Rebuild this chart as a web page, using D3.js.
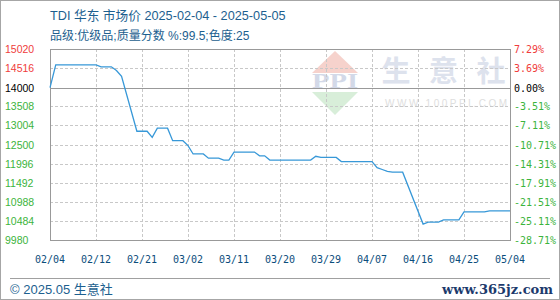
<!doctype html>
<html>
<head>
    <meta charset="UTF-8">
    <title>TDI 华东 市场价</title>
    <script src="https://cdn.jsdelivr.net/npm/d3@7"></script>
    <style>
        body { margin:0; background:#fff; }
        .title { font-family: "Liberation Sans", "Noto Sans CJK SC", sans-serif; fill: #1d5f8f; }
        .ylab { font-family: "Liberation Sans", Arial, sans-serif; font-size: 10.5px; }
        .pct { font-family: "DejaVu Sans Mono", monospace; font-size: 10px; }
        .xlab { font-family: "DejaVu Sans Mono", monospace; font-size: 10px; fill: #0b4d7c; text-anchor: middle; }
    </style>
</head>
<body>
<script>
    // price points (only where the line changes direction)
    var dates = ['2025-02-04','2025-02-05','2025-02-12','2025-02-13','2025-02-15','2025-02-16','2025-02-17',
                 '2025-02-20','2025-02-22','2025-02-23','2025-02-24','2025-02-26','2025-02-27','2025-03-01',
                 '2025-03-02','2025-03-03','2025-03-05','2025-03-06','2025-03-08','2025-03-09','2025-03-10',
                 '2025-03-11','2025-03-15','2025-03-16','2025-03-17','2025-03-18','2025-03-26','2025-03-27',
                 '2025-03-28','2025-03-31','2025-04-01','2025-04-07','2025-04-08','2025-04-09','2025-04-10',
                 '2025-04-11','2025-04-13','2025-04-17','2025-04-18','2025-04-20','2025-04-21','2025-04-24',
                 '2025-04-25','2025-04-29','2025-04-30','2025-05-04'];
    var prices = [14000,14600,14600,14550,14550,14450,14300,
                  12850,12850,12690,12930,12930,12600,12600,
                  12470,12250,12250,12140,12140,12090,12090,
                  12300,12300,12200,12200,12090,12090,12190,
                  12160,12160,12050,12050,11890,11840,11790,
                  11770,11770,10400,10450,10450,10510,10510,
                  10720,10720,10750,10750];

    var xTickDates = ['2025-02-04','2025-02-12','2025-02-21','2025-03-02','2025-03-11','2025-03-20',
                      '2025-03-29','2025-04-07','2025-04-16','2025-04-25','2025-05-04'];
    var xTickLabels = ['02/04','02/12','02/21','03/02','03/11','03/20','03/29','04/07','04/16','04/25','05/04'];

    var yTicks = [15020,14516,14000,13508,13004,12500,11996,11492,10988,10484,9980];
    var pctLabels = ['7.29%','3.69%','0.00%','-3.51%','-7.11%','-10.71%','-14.31%','-17.91%','-21.51%','-25.11%','-28.71%'];
    var basePrice = 14000;

    var W = 560, H = 300;
    var plot = { left: 50, right: 510, top: 49, bottom: 240 };

    var parse = d3.timeParse("%Y-%m-%d");
    var data = dates.map(function (d, i) { return { date: parse(d), value: prices[i] }; });
    var tickDates = xTickDates.map(parse);

    // tick labels are evenly spaced, so the time scale is piecewise between them
    var step = (plot.right - plot.left) / (tickDates.length - 1);
    var x = d3.scaleTime()
        .domain(tickDates)
        .range(tickDates.map(function (d, i) { return plot.left + i * step; }));

    var y = d3.scaleLinear()
        .domain([9980, 15020])
        .range([plot.bottom, plot.top]);

    var svg = d3.select("body").append("svg")
        .attr("width", W)
        .attr("height", H);

    // outer frame
    svg.append("rect")
        .attr("x", 0.5).attr("y", 0.5)
        .attr("width", W - 1).attr("height", H - 1)
        .style("fill", "#fff").style("stroke", "#a6a6a6");

    // titles
    svg.append("text").attr("class", "title")
        .attr("x", 50).attr("y", 20)
        .style("font-size", "12.7px")
        .text("TDI 华东 市场价 2025-02-04 - 2025-05-05");
    svg.append("text").attr("class", "title")
        .attr("x", 50).attr("y", 40)
        .style("font-size", "12px")
        .text("品级:优级品;质量分数 %:99.5;色度:25");

    // watermark
    var wm = svg.append("g");
    wm.append("path")
        .attr("d", "M312,73 L335,51 L358,73 Z")
        .style("fill", "#f6d2cc");
    wm.append("text")
        .attr("x", 312).attr("y", 88)
        .attr("textLength", 46).attr("lengthAdjust", "spacingAndGlyphs")
        .style("font-family", "Liberation Serif, serif").style("font-weight", "bold")
        .style("font-size", "20px").style("fill", "#d3d9e8")
        .text("PPI");
    wm.append("path")
        .attr("d", "M312,92 L358,92 L335,115 Z")
        .style("fill", "#d8eed9");
    wm.selectAll(".wmchar")
        .data(["生", "意", "社"])
        .enter().append("text")
        .attr("class", "wmchar")
        .attr("x", function (d, i) { return 396 + i * 47.5; })
        .attr("y", 82)
        .style("text-anchor", "middle")
        .style("font-family", "Noto Sans CJK SC, sans-serif").style("font-weight", "bold")
        .style("font-size", "29px").style("fill", "#dde2ed")
        .text(function (d) { return d; });
    wm.append("text")
        .attr("x", 385).attr("y", 107)
        .attr("textLength", 122)
        .style("font-family", "Liberation Sans, sans-serif")
        .style("font-size", "10px").style("fill", "#dedede")
        .text("WWW.100PPI.COM");

    // grid
    svg.selectAll(".hgrid")
        .data(yTicks)
        .enter().append("line")
        .attr("class", "hgrid")
        .attr("x1", plot.left).attr("x2", plot.right)
        .attr("y1", function (d) { return Math.round(y(d)) + 0.5; })
        .attr("y2", function (d) { return Math.round(y(d)) + 0.5; })
        .style("stroke", function (d) { return d === basePrice ? "#999" : "#c8c8c8"; })
        .style("stroke-dasharray", function (d) { return d === basePrice ? null : "3,2"; });

    svg.selectAll(".vgrid")
        .data(tickDates)
        .enter().append("line")
        .attr("class", "vgrid")
        .attr("x1", function (d) { return Math.round(x(d)) + 0.5; })
        .attr("x2", function (d) { return Math.round(x(d)) + 0.5; })
        .attr("y1", plot.top).attr("y2", plot.bottom)
        .style("stroke", "#c8c8c8")
        .style("stroke-dasharray", "3,2");

    svg.append("rect")
        .attr("x", plot.left + 0.5).attr("y", plot.top + 0.5)
        .attr("width", plot.right - plot.left).attr("height", plot.bottom - plot.top)
        .style("fill", "none").style("stroke", "#999");

    // axis labels
    var labColor = function (d) {
        if (d > basePrice) return "#f03c3c";
        if (d < basePrice) return "#3cb43c";
        return "#000";
    };
    svg.selectAll(".ylab")
        .data(yTicks)
        .enter().append("text")
        .attr("class", "ylab")
        .attr("x", 5)
        .attr("y", function (d) { return y(d) + 4; })
        .style("fill", labColor)
        .text(function (d) { return d; });

    svg.selectAll(".pct")
        .data(yTicks)
        .enter().append("text")
        .attr("class", "pct")
        .attr("x", 514)
        .attr("y", function (d) { return y(d) + 4; })
        .style("fill", labColor)
        .text(function (d, i) { return pctLabels[i]; });

    svg.selectAll(".xlab")
        .data(tickDates)
        .enter().append("text")
        .attr("class", "xlab")
        .attr("x", function (d) { return x(d); })
        .attr("y", 263)
        .text(function (d, i) { return xTickLabels[i]; });

    // price line
    var line = d3.line()
        .x(function (d) { return x(d.date); })
        .y(function (d) { return y(d.value); });
    svg.append("path")
        .datum(data)
        .attr("d", line)
        .style("fill", "none")
        .style("stroke", "#3798d8")
        .style("stroke-width", 1.3);

    // footer
    svg.append("line")
        .attr("x1", 10).attr("x2", 550)
        .attr("y1", 278.5).attr("y2", 278.5)
        .style("stroke", "#a0a0a0");
    svg.append("text").attr("class", "title")
        .attr("x", 10).attr("y", 294)
        .style("font-size", "13px")
        .text("© 2025.05 生意社");
    svg.append("text")
        .attr("x", 553).attr("y", 294)
        .style("text-anchor", "end")
        .style("font-family", "DejaVu Serif, serif").style("font-weight", "bold")
        .style("font-size", "13px").style("fill", "#1c3a6c")
        .text("www.365jz.com");
</script>
</body>
</html>
